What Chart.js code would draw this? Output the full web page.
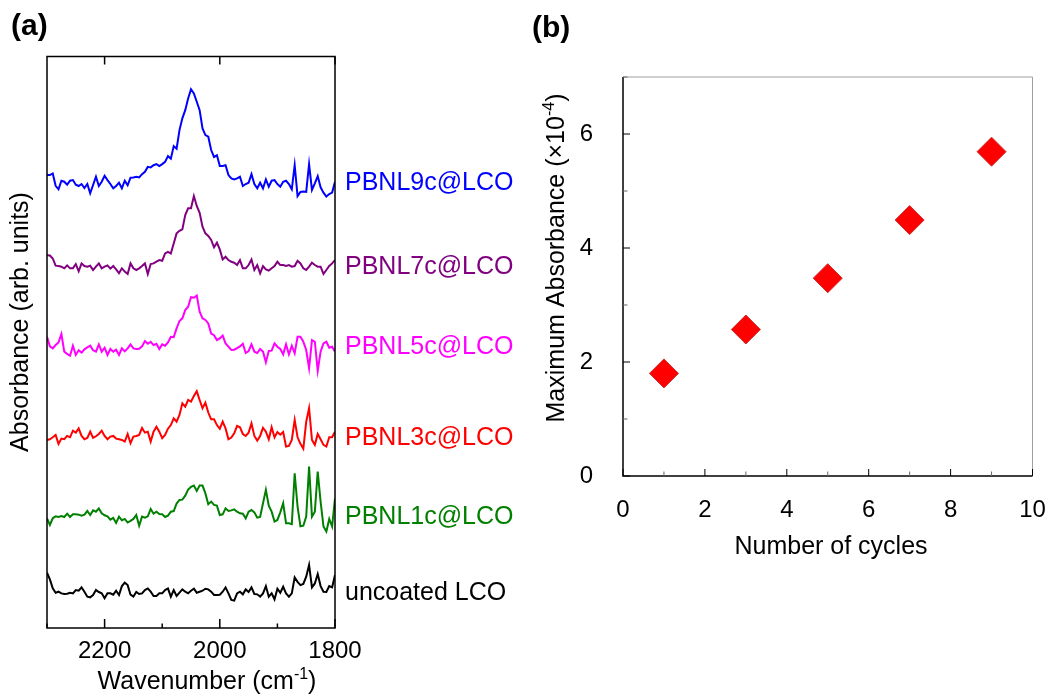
<!DOCTYPE html>
<html>
<head>
<meta charset="utf-8">
<script src="https://cdn.jsdelivr.net/npm/chart.js@4.4.1/dist/chart.umd.min.js"></script>
<style>
  body { margin: 0; background: #fff; }
  #wrapA { position: absolute; left: 0; top: 0; width: 520px; height: 696px; }
  #wrapB { position: absolute; left: 520px; top: 0; width: 528px; height: 696px; }
</style>
</head>
<body>
<div id="wrapA"><canvas id="chartA"></canvas></div>
<div id="wrapB"><canvas id="chartB"></canvas></div>
<script>
// (a) IR spectra, wavenumber grid in cm-1 (axis runs 2300 -> 1800)
var wavenumber = [
  2300,2295,2290,2285,2280,2275,2270,2265,2260,2255,
  2250,2245,2240,2235,2230,2225,2220,2215,2210,2205,
  2200,2195,2190,2185,2180,2175,2170,2165,2160,2155,
  2150,2145,2140,2135,2130,2125,2120,2115,2110,2105,
  2100,2095,2090,2085,2080,2075,2070,2065,2060,2055,
  2050,2045,2040,2035,2030,2025,2020,2015,2010,2005,
  2000,1995,1990,1985,1980,1975,1970,1965,1960,1955,
  1950,1945,1940,1935,1930,1925,1920,1915,1910,1905,
  1900,1895,1890,1885,1880,1875,1870,1865,1860,1855,
  1850,1845,1840,1835,1830,1825,1820,1815,1810,1805,
  1800
];

// absorbance (x10^-4) above each trace's own baseline
var uncoated = [
  1.25,0.85,0.3,0.04,0.1,0,-0.04,-0.02,0.04,0,
  0.2,0.16,0.36,0.1,-0.2,-0.24,-0.1,0.2,0.08,0,
  -0.3,0,0,-0.08,0.16,-0.1,0.44,0.65,0.5,-0.08,
  -0.2,0.08,-0.04,0,0.2,0.3,0.1,-0.16,-0.16,0,
  0,0.2,0.3,-0.2,0.2,-0.16,0.04,0.24,0.1,0,
  0.16,0.28,0.04,0.1,0.16,0.28,0.24,0.1,-0.1,-0.1,
  -0.08,0.1,0.36,0,-0.4,-0.44,0,0.1,-0.06,0.24,
  0.08,0.36,-0.04,-0.06,-0.2,0,0.44,-0.2,0,-0.36,
  0.28,0.04,0.4,0,-0.2,0,0.97,0.7,0.5,0.57,
  1.01,1.72,0.36,0.6,1.17,0.44,0.1,0.08,0.44,0.36,
  1.11
];
var pbnl1c = [
  -0.1,-0.5,-0.1,0.02,-0.02,0.04,-0.02,0.18,-0.02,0.14,
  0.14,0.12,0.06,0.12,0.34,0.1,0.38,0.3,0.5,0.2,
  0.08,0.02,-0.18,-0.08,-0.38,0,-0.22,-0.14,-0.36,-0.26,
  -0.14,0.1,-0.55,0,-0.06,0.02,0.46,0.18,0.3,0.16,
  0.14,-0.02,0.06,0.3,0.34,0.79,1.01,1.03,1.27,1.64,
  1.8,1.88,1.56,1.88,1.88,1.41,0.75,0.91,0.71,0.67,
  0.1,0.14,0.5,0.34,0.38,0.44,0.3,0.2,0.18,-0.1,
  0.3,0.4,0.26,-0.06,-0.02,0.81,1.62,0.67,0.3,-0.3,
  -0.2,0.26,0.81,-0.4,-0.4,-0.46,2.63,0.6,-0.59,-0.55,
  0,3.03,0,0.3,2.73,0.91,-0.6,-0.9,-0.14,-0.6,
  1.11
];
var pbnl3c = [
  -0.1,-0.06,0.06,0.2,-0.34,-0.02,-0.06,0.14,0.06,0.46,
  0.34,0.6,0.14,-0.06,0.02,0.4,0.02,0.12,0.26,0.46,
  0.14,-0.06,0.1,0.14,-0.02,-0.06,-0.1,-0.2,0.26,-0.3,
  0.1,0.14,0.2,0.63,0.34,0.4,-0.2,0.4,0.7,0.4,
  0,0.2,0.58,0.8,1.21,1.01,1.41,2.12,1.92,2.32,
  2.22,2.56,2.85,2.32,1.82,2.16,1.56,1.15,1.15,0.8,
  0.58,1.01,0.6,-0.06,0.04,0.3,0.75,0.67,0.26,0.14,
  0.34,0.9,0.14,-0.14,0.14,0.63,0.4,-0.06,0.67,0.06,
  0.38,0.22,0.38,-0.5,-0.46,-0.1,1.11,0.06,-0.34,-0.63,
  1.0,1.82,-0.1,-0.4,0.26,-0.06,-0.4,-0.5,0.06,0.06,
  0.4
];
var pbnl5c = [
  0.6,0.02,-0.1,0.1,0.26,0.77,-0.3,-0.44,-0.55,0.06,
  -0.5,-0.22,-0.36,-0.16,-0.04,0.06,-0.22,-0.3,0.14,-0.3,
  -0.06,-0.5,-0.14,-0.3,-0.18,-0.5,-0.1,-0.28,-0.1,0.14,
  -0.1,-0.14,-0.12,0.02,0.34,0.18,0.3,0.1,0.18,-0.14,
  0.14,0.06,0.26,0.6,0.58,1.11,1.56,1.72,2.22,2.42,
  3.0,2.97,3.1,2.12,1.72,1.62,1.41,0.8,0.7,0.4,
  0.5,0.67,0.2,0,-0.2,-0.18,-0.08,0.02,0.18,-0.38,
  -0.26,0.14,-0.3,-0.38,-0.14,-0.3,-0.95,-0.26,-0.24,0.2,
  0,-0.14,-0.46,0.14,-0.46,0.06,-0.4,0.6,0.6,0.3,
  -0.2,-1.31,0.4,0.3,-1.47,-0.3,0.2,0.3,-0.06,0,
  -0.3
];
var pbnl7c = [
  0.7,0.68,0.5,0.06,0.04,0,-0.1,0.08,-0.1,-0.1,
  0.16,-0.28,0.2,0.04,0,0.06,-0.2,0,0.2,-0.1,
  0,0.08,-0.12,0.04,-0.16,-0.4,-0.1,-0.3,-0.44,0.2,
  -0.1,-0.2,-0.1,0.04,0.2,-0.44,0.16,0.2,0.3,0.4,
  0.36,0.8,0.9,0.8,1.41,2.02,2.18,2.26,3.13,3.54,
  3.54,4.28,3.68,3.27,2.42,2.02,1.86,1.62,1.17,1.45,
  1.05,0.44,0.6,0.4,0.3,0.24,0.1,0.4,-0.1,-0.1,
  0.1,0.44,-0.2,0.1,-0.4,0.04,-0.16,-0.24,-0.1,0.04,
  0.3,0.1,0.1,0.04,0.1,0,0.04,0.36,0.2,-0.1,
  -0.2,0,0.24,0.1,0,0,-0.44,-0.2,0.04,0.2,
  0.4
];
var pbnl9c = [
  0.5,0.5,0.6,-0.15,-0.36,0.16,0.1,-0.08,0.16,0.2,
  -0.08,-0.16,-0.04,-0.28,-0.04,-0.6,-0.1,0.4,-0.16,0.1,
  0.46,0.2,-0.04,-0.3,-0.16,0.04,-0.3,0.16,-0.12,0.34,
  0.36,0.4,0.36,0.56,0.7,1.0,0.97,1.1,1.17,1.05,
  1.17,1.3,1.65,1.5,2.26,2.1,3.23,3.94,4.44,5.15,
  5.7,5.45,4.95,4.44,3.33,2.93,2.83,2.02,1.6,1.7,
  1.05,1.05,1.1,0.5,0.3,0.24,0.3,0.4,-0.16,-0.04,
  0.04,0.56,-0.04,-0.3,0.04,-0.3,0.24,-0.2,0.16,0.2,
  -0.04,-0.2,0.1,0.16,-0.04,-0.36,1.1,-0.77,-0.52,-0.5,
  -0.52,1.17,-0.4,0,0.44,-0.24,-0.56,-0.8,-0.65,-0.56,
  0.1
];

var spectra = [uncoated, pbnl1c, pbnl3c, pbnl5c, pbnl7c, pbnl9c];
var sampleNames = ["uncoated LCO", "PBNL1c@LCO", "PBNL3c@LCO", "PBNL5c@LCO", "PBNL7c@LCO", "PBNL9c@LCO"];
var offsets = [2.1, 6.75, 11.5, 17.05, 21.9, 26.95];   // vertical stacking (x10^-4)
var colors = ["#000000", "#008000", "#ff0000", "#ff00ff", "#800080", "#0000ff"];
var xTicksA = [2200, 2000, 1800];

// (b) maximum absorbance vs number of cycles
var cycles = [1, 3, 5, 7, 9];
var maxAbsorbance = [1.80, 2.57, 3.47, 4.49, 5.69];
var xTicksB = [0, 2, 4, 6, 8, 10];
var yTicksB = [0, 2, 4, 6];

var FONT = '"Liberation Sans", Arial, sans-serif';

// draw text with superscript parts, centred on x, y = baseline
function drawRich(ctx, parts, x, y, size) {
  var total = 0;
  parts.forEach(function (p) {
    ctx.font = (p[1] ? Math.round(size * 0.62) : size) + "px " + FONT;
    total += ctx.measureText(p[0]).width;
  });
  var cx = x - total / 2;
  ctx.textAlign = "left";
  ctx.textBaseline = "alphabetic";
  parts.forEach(function (p) {
    ctx.font = (p[1] ? Math.round(size * 0.62) : size) + "px " + FONT;
    ctx.fillText(p[0], cx, p[1] ? y - size * 0.4 : y);
    cx += ctx.measureText(p[0]).width;
  });
}

// ---------- panel (a) ----------
var dsA = spectra.map(function (s, k) {
  return {
    label: sampleNames[k],
    data: wavenumber.map(function (w, i) { return { x: w, y: s[i] + offsets[k] }; }),
    borderColor: colors[k],
    borderWidth: 2,
    pointRadius: 0,
    tension: 0,
    fill: false
  };
});

var decorA = {
  id: "decorA",
  afterDraw: function (chart) {
    var ctx = chart.ctx, a = chart.chartArea;
    var xs = chart.scales.x, ys = chart.scales.y;
    ctx.save();
    ctx.strokeStyle = "#000";
    ctx.lineWidth = 1.5;
    ctx.strokeRect(a.left, a.top, a.right - a.left, a.bottom - a.top);
    // inward ticks
    xs.ticks.forEach(function (t) {
      var px = xs.getPixelForValue(t.value);
      var major = xTicksA.indexOf(t.value) >= 0;
      ctx.beginPath();
      ctx.moveTo(px, a.bottom);
      ctx.lineTo(px, a.bottom - (major ? 9 : 4.5));
      if (major) {
        ctx.moveTo(px, a.top);
        ctx.lineTo(px, a.top + 8);
      }
      ctx.stroke();
    });
    // sample labels
    ctx.font = "25px " + FONT;
    ctx.textAlign = "left";
    ctx.textBaseline = "middle";
    sampleNames.forEach(function (n, k) {
      ctx.fillStyle = colors[k];
      ctx.fillText(n, a.right + 10, ys.getPixelForValue(offsets[k]));
    });
    // axis titles
    ctx.fillStyle = "#000";
    drawRich(ctx, [["Wavenumber (cm", false], ["-1", true], [")", false]], 207, 689, 25);
    ctx.save();
    ctx.translate(21, 322);
    ctx.rotate(-Math.PI / 2);
    ctx.font = "25px " + FONT;
    ctx.textAlign = "center";
    ctx.textBaseline = "middle";
    ctx.fillText("Absorbance (arb. units)", 0, 0);
    ctx.restore();
    ctx.font = "bold 30px " + FONT;
    ctx.textAlign = "left";
    ctx.textBaseline = "middle";
    ctx.fillText("(a)", 11, 27);
    ctx.restore();
  }
};

new Chart(document.getElementById("chartA"), {
  type: "line",
  data: { datasets: dsA },
  options: {
    responsive: true,
    maintainAspectRatio: false,
    devicePixelRatio: 1,
    animation: false,
    events: [],
    layout: { padding: { top: 56.5, right: 185, left: 0, bottom: 0 } },
    plugins: { legend: { display: false }, tooltip: { enabled: false } },
    scales: {
      x: {
        type: "linear",
        reverse: true,
        min: 1800,
        max: 2300,
        grid: { display: false, drawTicks: false },
        border: { display: false },
        ticks: {
          stepSize: 100,
          autoSkip: false,
          maxRotation: 0,
          padding: 9,
          color: "#000",
          font: { family: FONT, size: 24 },
          callback: function (v) { return xTicksA.indexOf(v) >= 0 ? String(v) : ""; }
        },
        afterFit: function (s) { s.height = 68; s.paddingLeft = 0; s.paddingRight = 0; }
      },
      y: {
        min: 0,
        max: 34.64,
        grid: { display: false, drawTicks: false },
        border: { display: false },
        ticks: { display: false },
        afterFit: function (s) { s.width = 47; }
      }
    }
  },
  plugins: [decorA]
});

// ---------- panel (b) ----------
var decorB = {
  id: "decorB",
  afterDraw: function (chart) {
    var ctx = chart.ctx, a = chart.chartArea;
    var xs = chart.scales.x, ys = chart.scales.y;
    ctx.save();
    ctx.lineWidth = 1;
    ctx.strokeStyle = "#a0a0a0";
    ctx.beginPath();
    ctx.moveTo(a.left, a.top);
    ctx.lineTo(a.right, a.top);
    ctx.lineTo(a.right, a.bottom);
    ctx.stroke();
    ctx.strokeStyle = "#000";
    ctx.lineWidth = 1.5;
    ctx.beginPath();
    ctx.moveTo(a.left, a.top);
    ctx.lineTo(a.left, a.bottom);
    ctx.lineTo(a.right, a.bottom);
    ctx.stroke();
    ctx.lineWidth = 1;
    xs.ticks.forEach(function (t) {
      var px = xs.getPixelForValue(t.value);
      var major = xTicksB.indexOf(t.value) >= 0;
      ctx.strokeStyle = major ? "#000" : "#666";
      ctx.beginPath();
      ctx.moveTo(px, a.bottom);
      ctx.lineTo(px, a.bottom - (major ? 7 : 4.5));
      ctx.stroke();
    });
    ys.ticks.forEach(function (t) {
      var py = ys.getPixelForValue(t.value);
      var major = yTicksB.indexOf(t.value) >= 0;
      ctx.strokeStyle = major ? "#000" : "#666";
      ctx.beginPath();
      ctx.moveTo(a.left, py);
      ctx.lineTo(a.left + (major ? 7 : 4.5), py);
      ctx.stroke();
    });
    ctx.fillStyle = "#000";
    drawRich(ctx, [["Number of cycles", false]], 311, 554, 25);
    ctx.save();
    ctx.translate(35, 258);
    ctx.rotate(-Math.PI / 2);
    drawRich(ctx, [["Maximum Absorbance (\u00d710", false], ["-4", true], [")", false]], 0, 9, 25);
    ctx.restore();
    ctx.font = "bold 30px " + FONT;
    ctx.textAlign = "left";
    ctx.textBaseline = "middle";
    ctx.fillText("(b)", 12, 29);
    ctx.restore();
  }
};

new Chart(document.getElementById("chartB"), {
  type: "scatter",
  data: {
    datasets: [{
      label: "Maximum absorbance",
      data: cycles.map(function (c, i) { return { x: c, y: maxAbsorbance[i] }; }),
      pointStyle: "rectRot",
      pointRadius: 14.5,
      backgroundColor: "#ff0000",
      borderColor: "#cc2a2a",
      borderWidth: 1
    }]
  },
  options: {
    responsive: true,
    maintainAspectRatio: false,
    devicePixelRatio: 1,
    animation: false,
    events: [],
    layout: { padding: { top: 77, right: 15, left: 0, bottom: 0 } },
    plugins: { legend: { display: false }, tooltip: { enabled: false } },
    scales: {
      x: {
        type: "linear",
        min: 0,
        max: 10,
        grid: { display: false, drawTicks: false },
        border: { display: false },
        ticks: {
          stepSize: 1,
          autoSkip: false,
          maxRotation: 0,
          padding: 20,
          color: "#000",
          font: { family: FONT, size: 24 },
          callback: function (v) { return xTicksB.indexOf(v) >= 0 ? String(v) : ""; }
        },
        afterFit: function (s) { s.height = 220; s.paddingLeft = 0; s.paddingRight = 0; }
      },
      y: {
        min: 0,
        max: 7,
        grid: { display: false, drawTicks: false },
        border: { display: false },
        ticks: {
          stepSize: 1,
          autoSkip: false,
          padding: 30,
          color: "#000",
          font: { family: FONT, size: 24 },
          callback: function (v) { return yTicksB.indexOf(v) >= 0 ? String(v) : ""; }
        },
        afterFit: function (s) { s.width = 103; s.paddingTop = 0; s.paddingBottom = 0; }
      }
    }
  },
  plugins: [decorB]
});
</script>
</body>
</html>
